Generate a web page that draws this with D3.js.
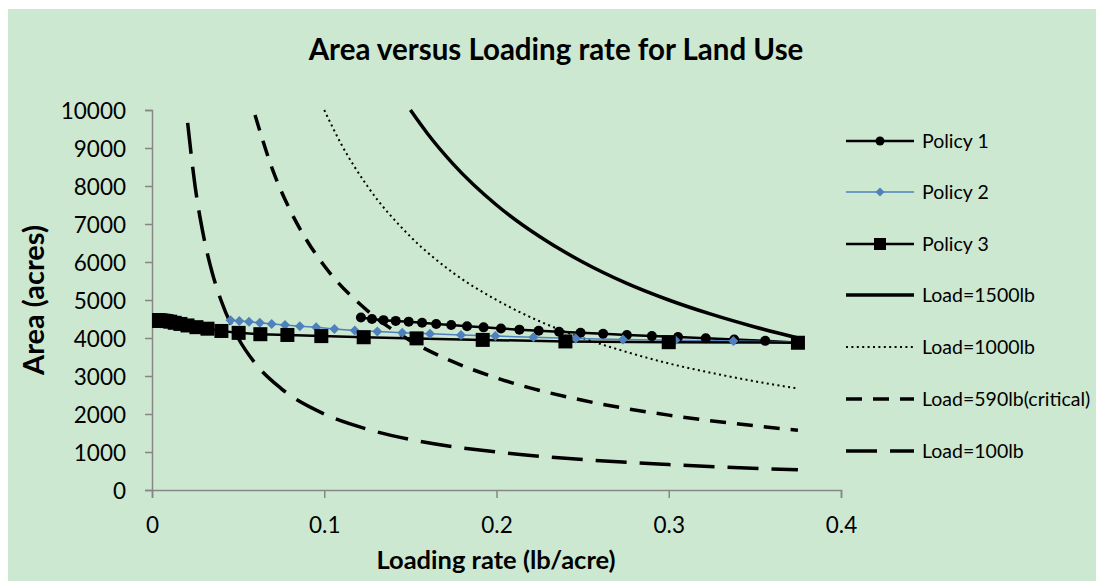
<!DOCTYPE html>
<html>
<head>
<meta charset="utf-8">
<script src="https://cdn.jsdelivr.net/npm/d3@7"></script>
<style>
  html, body { margin: 0; padding: 0; background: #fff; }
  svg { display: block; font-family: Lato, "Open Sans", sans-serif; }
</style>
</head>
<body>
<svg id="chart" width="1096" height="581"></svg>
<script>
// Series
const policy1X = [0.1213, 0.1277, 0.1344, 0.1415, 0.149, 0.1568, 0.165, 0.1737, 0.1829, 0.1925, 0.2026,
  0.2133, 0.2245, 0.2363, 0.2488, 0.2619, 0.2757, 0.2902, 0.3054, 0.3215, 0.338, 0.356, 0.375];
const policy1Y = [4540, 4500, 4470, 4450, 4430, 4400, 4370, 4340, 4310, 4280, 4250,
  4220, 4190, 4165, 4140, 4110, 4080, 4050, 4025, 3995, 3960, 3925, 3875];

const policy2X = [0.0456, 0.0507, 0.0563, 0.0626, 0.0695, 0.0772, 0.0858, 0.0953, 0.1059, 0.1177, 0.1308,
  0.1453, 0.1614, 0.1794, 0.1993, 0.2214, 0.246, 0.2734, 0.3038, 0.3375, 0.375];
const policy2Y = [4470, 4450, 4430, 4400, 4370, 4340, 4310, 4280, 4240, 4200, 4170,
  4140, 4110, 4080, 4050, 4020, 3990, 3960, 3940, 3920, 3900];

const policy3X = [0.0005, 0.0006, 0.0007, 0.0009, 0.0011, 0.0014, 0.0018, 0.0022, 0.0028, 0.0035, 0.0043,
  0.0054, 0.0068, 0.0084, 0.0106, 0.0132, 0.0165, 0.0206, 0.0258, 0.0322, 0.0403,
  0.0503, 0.0629, 0.0786, 0.0983, 0.1229, 0.1536, 0.192, 0.24, 0.3, 0.375];
const policy3Y = [4472, 4471, 4470, 4469, 4468, 4467, 4466, 4465, 4464, 4463, 4462,
  4460, 4455, 4445, 4430, 4400, 4370, 4330, 4285, 4245, 4185,
  4135, 4100, 4080, 4050, 4020, 3990, 3950, 3910, 3890, 3875];

const load1500X = [0.15, 0.16, 0.175, 0.2, 0.225, 0.25, 0.275, 0.3, 0.325, 0.35, 0.375];
const load1500Y = [10000, 9375, 8570, 7500, 6670, 6000, 5450, 5000, 4620, 4290, 4000];

const load1000X = [0.1, 0.11, 0.125, 0.15, 0.175, 0.2, 0.225, 0.25, 0.275, 0.3, 0.325, 0.35, 0.375];
const load1000Y = [10000, 9090, 8000, 6670, 5710, 5000, 4440, 4000, 3640, 3330, 3080, 2860, 2670];

const load590X = [0.0598, 0.07, 0.08, 0.09, 0.1, 0.125, 0.15, 0.175, 0.2, 0.25, 0.3, 0.35, 0.375];
const load590Y = [9870, 8430, 7380, 6560, 5900, 4720, 3930, 3370, 2950, 2360, 1970, 1690, 1570];

const load100X = [0.0207, 0.025, 0.03, 0.035, 0.04, 0.05, 0.06, 0.075, 0.1, 0.125, 0.15, 0.2, 0.25, 0.3, 0.375];
const load100Y = [9660, 8000, 6670, 5710, 5000, 4000, 3330, 2670, 2000, 1600, 1330, 1000, 800, 670, 530];

const xTicks = [0, 0.1, 0.2, 0.3, 0.4];
const yTicks = [0, 1000, 2000, 3000, 4000, 5000, 6000, 7000, 8000, 9000, 10000];

const zip = (xs, ys) => xs.map((x, i) => ({ x: x, y: ys[i] }));

const series = [
  { name: 'Policy 1', pts: zip(policy1X, policy1Y), color: '#000', width: 2.5, dash: null, marker: 'circle' },
  { name: 'Policy 2', pts: zip(policy2X, policy2Y), color: '#4f81bd', width: 1.5, dash: null, marker: 'diamond' },
  { name: 'Policy 3', pts: zip(policy3X, policy3Y), color: '#000', width: 2.5, dash: null, marker: 'square' },
  { name: 'Load=1500lb', pts: zip(load1500X, load1500Y), color: '#000', width: 3.5, dash: null, smooth: true },
  { name: 'Load=1000lb', pts: zip(load1000X, load1000Y), color: '#000', width: 2, dash: '2,3.4', smooth: true },
  { name: 'Load=590lb(critical)', pts: zip(load590X, load590Y), color: '#000', width: 3.5, dash: '16,11', smooth: true },
  { name: 'Load=100lb', pts: zip(load100X, load100Y), color: '#000', width: 3.5, dash: '31,13', smooth: true }
];

const svg = d3.select('#chart');

// chart area background
svg.append('rect')
  .attr('x', 8).attr('y', 9)
  .attr('width', 1096 - 8).attr('height', 581 - 9)
  .attr('fill', '#cde8d0');

const margin = { left: 152, right: 841, top: 110, bottom: 490 };
const x = d3.scaleLinear().domain([0, 0.4]).range([margin.left, margin.right]);
const y = d3.scaleLinear().domain([0, 10000]).range([margin.bottom, margin.top]);

svg.append('defs').append('clipPath').attr('id', 'plotClip')
  .append('rect')
  .attr('x', margin.left).attr('y', margin.top - 20)
  .attr('width', margin.right - margin.left + 20)
  .attr('height', margin.bottom - margin.top + 40);

// axes
const axisColor = '#868686';
const yAxis = svg.append('g')
  .attr('transform', `translate(${margin.left},0)`)
  .call(d3.axisLeft(y).tickValues(yTicks).tickSize(7).tickFormat(d3.format('d')));
const xAxis = svg.append('g')
  .attr('transform', `translate(0,${margin.bottom})`)
  .call(d3.axisBottom(x).tickValues(xTicks).tickSize(8).tickFormat(d => d === 0 ? '0' : d3.format('.1f')(d)));

[xAxis, yAxis].forEach(g => {
  g.select('.domain').attr('stroke', axisColor).attr('stroke-width', 1.5);
  g.selectAll('.tick line').attr('stroke', axisColor).attr('stroke-width', 1.5);
  g.selectAll('.tick text')
    .attr('fill', '#000')
    .style('font-size', '22.5px')
    .style('font-family', 'Lato, "Open Sans", sans-serif');
});
xAxis.selectAll('.tick text').attr('y', 43).attr('dy', 0);
yAxis.selectAll('.tick text').attr('x', -26).attr('dy', '0.36em');

// lines
const plot = svg.append('g').attr('clip-path', 'url(#plotClip)');

const lineStraight = d3.line().x(d => x(d.x)).y(d => y(d.y));
const lineSmooth = d3.line().x(d => x(d.x)).y(d => y(d.y)).curve(d3.curveMonotoneX);

// draw load curves first, then policies on top
const drawOrder = [3, 4, 5, 6, 0, 1, 2];
drawOrder.forEach(i => {
  const s = series[i];
  plot.append('path')
    .datum(s.pts)
    .attr('fill', 'none')
    .attr('stroke', s.color)
    .attr('stroke-width', s.width)
    .attr('stroke-dasharray', s.dash)
    .attr('d', s.smooth ? lineSmooth : lineStraight);
});

const drawMarker = (g, type, cx, cy, legend) => {
  if (type === 'circle') {
    g.append('circle').attr('cx', cx).attr('cy', cy).attr('r', legend ? 4.5 : 5).attr('fill', '#000');
  } else if (type === 'diamond') {
    const r = legend ? 4.5 : 5;
    g.append('path')
      .attr('d', `M${cx},${cy - r}L${cx + r},${cy}L${cx},${cy + r}L${cx - r},${cy}Z`)
      .attr('fill', '#4f81bd');
  } else if (type === 'square') {
    const h = legend ? 6 : 7;
    g.append('rect').attr('x', cx - h).attr('y', cy - h).attr('width', 2 * h).attr('height', 2 * h).attr('fill', '#000');
  }
};

[0, 1, 2].forEach(i => {
  const s = series[i];
  s.pts.forEach(p => drawMarker(plot, s.marker, x(p.x), y(p.y), false));
});

// title and axis labels
svg.append('text')
  .attr('x', 556).attr('y', 60)
  .attr('text-anchor', 'middle')
  .style('font-size', '29.5px').style('font-weight', 'bold')
  .text('Area versus Loading rate for Land Use');

svg.append('text')
  .attr('transform', 'translate(44,300) rotate(-90)')
  .attr('text-anchor', 'middle')
  .style('font-size', '29px').style('font-weight', 'bold')
  .text('Area (acres)');

svg.append('text')
  .attr('x', 496).attr('y', 569)
  .attr('text-anchor', 'middle')
  .style('font-size', '25.5px').style('font-weight', 'bold')
  .text('Loading rate (lb/acre)');

// legend
const legendY = [141, 192, 244, 295, 347, 399, 451];
const legend = svg.append('g');
series.forEach((s, i) => {
  const ly = legendY[i];
  legend.append('line')
    .attr('x1', 846).attr('x2', 914).attr('y1', ly).attr('y2', ly)
    .attr('stroke', s.color)
    .attr('stroke-width', s.width)
    .attr('stroke-dasharray', s.dash);
  if (s.marker) drawMarker(legend, s.marker, 880, ly, true);
  legend.append('text')
    .attr('x', 922).attr('y', ly + 7)
    .style('font-size', '19.5px')
    .text(s.name);
});
</script>
</body>
</html>
